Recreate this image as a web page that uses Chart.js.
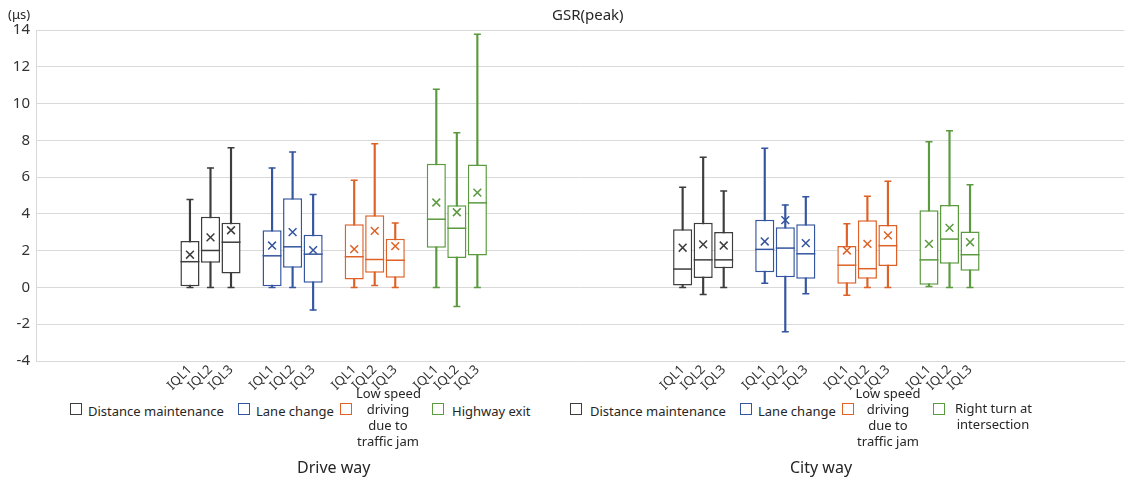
<!DOCTYPE html>
<html>
<head>
<meta charset="utf-8">
<script src="https://cdn.jsdelivr.net/npm/chart.js@4.4.1/dist/chart.umd.min.js"></script>
<style>
body{margin:0;background:#fff;font-family:"Noto Sans",sans-serif;color:#262626}
#wrap{position:relative;width:1135px;height:481px;overflow:hidden}
#box{position:absolute;left:0;top:0;width:1135px;height:400px}
.t{position:absolute;white-space:nowrap;font-size:13px;line-height:16px}
.c{text-align:center}
.sq{position:absolute;width:10px;height:10px;border:1.5px solid #404040;background:#fff}
.grp{position:absolute;font-size:16px;white-space:nowrap}
</style>
</head>
<body>
<div id="wrap">
  <div id="box"><canvas id="myChart"></canvas></div>
  <div class="t" style="left:8px;top:6px;font-size:13px">(μs)</div>
  <div class="t" style="left:552px;top:5px;font-size:15px;line-height:18px">GSR(peak)</div>
  <div id="legends"></div>
  <div class="grp" style="left:297px;top:456px">Drive way</div>
  <div class="grp" style="left:790px;top:456px">City way</div>
</div>
<script>
var iql = ['IQL1', 'IQL2', 'IQL3']
var driveNames = ['Distance maintenance', 'Lane change', 'Low speed<br>driving<br>due to<br>traffic jam', 'Highway exit']
var cityNames = ['Distance maintenance', 'Lane change', 'Low speed<br>driving<br>due to<br>traffic jam', 'Right turn at<br>intersection']
var colours = ['#3d3d3d', '#34559f', '#de6227', '#5b9a3f']

// drive way: 4 behaviours x IQL1..IQL3
var driveMin  = [0, 0, 0,        0, 0, -1.23,      0, 0.11, 0,       0, -1.03, 0]
var driveQ1   = [0.07, 1.34, 0.76, 0.07, 1.07, 0.25, 0.43, 0.8, 0.53,  2.16, 1.6, 1.74]
var driveMed  = [1.4, 2.01, 2.46, 1.72, 2.21, 1.81,  1.67, 1.52, 1.48, 3.71, 3.22, 4.6]
var driveQ3   = [2.52, 3.84, 3.52, 3.11, 4.85, 2.86, 3.44, 3.93, 2.65, 6.72, 4.47, 6.68]
var driveMax  = [4.78, 6.5, 7.59, 6.5, 7.36, 5.05,   5.83, 7.81, 3.5,  10.78, 8.41, 13.77]
var driveMean = [1.78, 2.72, 3.11, 2.28, 3.01, 2.03, 2.08, 3.08, 2.25, 4.62, 4.09, 5.16]

// city way
var cityMin  = [0, -0.38, 0,      0.23, -2.41, -0.34, -0.43, 0, 0,     0.05, 0, 0]
var cityQ1   = [0.1, 0.51, 1.05,  0.83, 0.56, 0.47,   0.2, 0.47, 1.16, 0.15, 1.29, 0.91]
var cityMed  = [1.0, 1.5, 1.5,    2.07, 2.14, 1.83,   1.21, 1.02, 2.27, 1.5, 2.63, 1.78]
var cityQ3   = [3.17, 3.52, 3.01, 3.68, 3.28, 3.44,   2.26, 3.66, 3.39, 4.2, 4.49, 3.04]
var cityMax  = [5.45, 7.08, 5.24, 7.57, 4.49, 4.93,   3.46, 4.96, 5.78, 7.92, 8.52, 5.58]
var cityMean = [2.16, 2.34, 2.28, 2.5, 3.66, 2.41,    2.01, 2.37, 2.83, 2.37, 3.24, 2.46]

var yMin = -4, yMax = 14, yStep = 2

// category slots along the x axis (empty ones are spacing)
var nSlots = 53
var driveStart = 7
var cityStart = 31

var labels = []
for (var i = 0; i < nSlots; i++) labels.push('')
var groups = [
  {start: driveStart, min: driveMin, q1: driveQ1, med: driveMed, q3: driveQ3, max: driveMax, mean: driveMean},
  {start: cityStart, min: cityMin, q1: cityQ1, med: cityMed, q3: cityQ3, max: cityMax, mean: cityMean}
]

function empty() { var a = []; for (var i = 0; i < nSlots; i++) a.push(null); return a }

var datasets = []
for (var b = 0; b < 4; b++) {
  var whisk = empty(), box = empty(), lo = empty(), hi = empty(), med = empty(), mean = empty()
  groups.forEach(function (g) {
    for (var j = 0; j < 3; j++) {
      var idx = g.start + b * 4 + j, k = b * 3 + j
      labels[idx] = iql[j]
      whisk[idx] = [g.min[k], g.max[k]]
      box[idx] = [g.q1[k], g.q3[k]]
      lo[idx] = g.min[k]
      hi[idx] = g.max[k]
      med[idx] = g.med[k]
      mean[idx] = g.mean[k]
    }
  })
  var col = colours[b]
  datasets.push({type: 'bar', data: whisk, backgroundColor: col, barThickness: 1.5, grouped: false, order: 5})
  datasets.push({type: 'bar', data: box, backgroundColor: '#ffffff', borderColor: col, borderWidth: 1.5,
    borderSkipped: false, grouped: false, barPercentage: 0.93, categoryPercentage: 1, order: 4})
  var pts = function (d, style, r, ord) {
    return {type: 'line', data: d, showLine: false, pointStyle: style, pointRadius: r,
      pointBorderColor: col, pointBackgroundColor: col, pointBorderWidth: 1.5, order: ord}
  }
  datasets.push(pts(lo, 'line', 3.5, 3))
  datasets.push(pts(hi, 'line', 3.5, 3))
  datasets.push(pts(med, 'line', 9.5, 2))
  datasets.push(pts(mean, 'crossRot', 5.5, 1))
}

new Chart(document.getElementById('myChart'), {
  type: 'bar',
  data: {labels: labels, datasets: datasets},
  options: {
    responsive: true,
    maintainAspectRatio: false,
    animation: false,
    events: [],
    layout: {padding: {top: 30, right: 0, left: 0, bottom: 0}},
    plugins: {legend: {display: false}, tooltip: {enabled: false}},
    scales: {
      x: {
        grid: {display: false, drawTicks: false},
        border: {color: '#d9d9d9'},
        ticks: {autoSkip: false, minRotation: 45, maxRotation: 45, padding: 1,
          color: '#333', font: {family: 'Noto Sans', size: 13}},
        afterFit: function (s) { s.height = 39 }
      },
      y: {
        min: yMin, max: yMax,
        ticks: {stepSize: yStep, padding: 6, color: '#333', font: {family: 'Noto Sans', size: 15}},
        grid: {color: '#d9d9d9', drawTicks: false},
        border: {color: '#d9d9d9'},
        afterFit: function (s) { s.width = 36 }
      }
    }
  }
})

// legends, one under each half
var legendPos = [
  {names: driveNames, sq: [70, 238, 340, 432], txt: [88, 256, 356, 452], w: [0, 0, 64, 0]},
  {names: cityNames, sq: [570, 740, 842, 933], txt: [590, 758, 855, 955], w: [0, 0, 66, 76]}
]
var html = ''
legendPos.forEach(function (L) {
  for (var b = 0; b < 4; b++) {
    html += '<div class="sq" style="left:' + L.sq[b] + 'px;top:403px;border-color:' + colours[b] + '"></div>'
    var lines = L.names[b].split('<br>').length
    var top = 410 - lines * 8 + (lines == 4 ? 7 : (lines == 2 ? 6 : 1))
    if (L.w[b]) html += '<div class="t c" style="left:' + L.txt[b] + 'px;width:' + L.w[b] + 'px;top:' + top + 'px">' + L.names[b] + '</div>'
    else html += '<div class="t" style="left:' + L.txt[b] + 'px;top:' + top + 'px">' + L.names[b] + '</div>'
  }
})
document.getElementById('legends').innerHTML = html
</script>
</body>
</html>
